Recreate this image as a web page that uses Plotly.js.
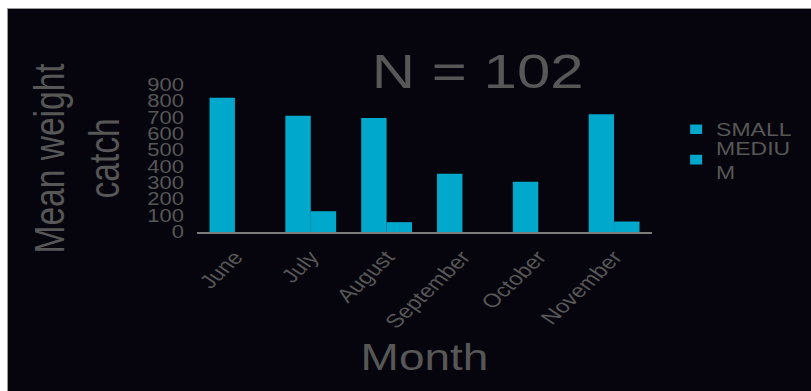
<!DOCTYPE html>
<html>
<head>
<meta charset="utf-8">
<script src="https://cdn.plot.ly/plotly-3.0.1.min.js"></script>
<style>
  html, body { margin: 0; padding: 0; background: #ffffff; width: 811px; height: 391px; overflow: hidden; }
  #wrap { position: absolute; left: 7px; top: 8px; width: 804px; height: 383px; overflow: hidden;
          background: #06050d; border-left: 1px solid #9a9a9a; border-top: 1px solid #9a9a9a; }
  #plot { width: 803px; height: 478px; transform: scaleY(0.7992); transform-origin: 0 0; }
</style>
</head>
<body>
<div id="wrap"><div id="plot"></div></div>
<script>
const months = ["June", "July", "August", "September", "October", "November"];
const smallCatch = [822, 711, 697, 357, 308, 721];
const mediumCatch = [0, 127, 60, 0, 0, 64];
const yTicks = [0, 100, 200, 300, 400, 500, 600, 700, 800, 900];
const seriesNames = ["SMALL", "MEDIU<br>M"];
const titleText = "N = 102";
const xTitle = "Month";
const yTitle = "Mean weight<br>catch";

const barColor = "#00a9cc";
const textColor = "#575757";
const fontFam = "Liberation Sans, Arial, Helvetica, sans-serif";

const traces = [
  { type: "bar", x: months, y: smallCatch, name: seriesNames[0], legend: "legend",
    marker: { color: barColor, line: { width: 0 } } },
  { type: "bar", x: months, y: mediumCatch, name: seriesNames[1], legend: "legend2",
    marker: { color: barColor, line: { width: 0 } } }
];

const legendFont = { size: 23, color: textColor, family: fontFam };

const layout = {
  width: 803, height: 478,
  paper_bgcolor: "#06050d", plot_bgcolor: "#06050d",
  margin: { l: 189, r: 159, t: 95, b: 199, pad: 0 },
  barmode: "group", bargap: 0.33, bargroupgap: 0,
  font: { family: fontFam, color: textColor },
  title: { text: titleText, font: { size: 60, color: textColor, family: fontFam },
           xref: "container", x: 0.585, xanchor: "center",
           yref: "container", y: 0.8366, yanchor: "middle" },
  xaxis: {
    type: "category", showgrid: false, zeroline: false,
    showline: true, linecolor: "#7c7c7c", linewidth: 2,
    ticks: "", tickangle: -50, ticklabelstandoff: 6,
    tickfont: { size: 24, color: textColor, family: fontFam },
    title: { text: xTitle, font: { size: 46, color: textColor, family: fontFam }, standoff: 16 },
    automargin: false
  },
  yaxis: {
    range: [0, 900], showgrid: false, zeroline: false, showline: false,
    tickvals: yTicks, ticktext: yTicks.map(String), ticks: "",
    ticklabelstandoff: 12,
    tickfont: { size: 22, color: textColor, family: fontFam },
    title: { text: yTitle, font: { size: 42, color: textColor, family: fontFam }, standoff: 14 },
    automargin: false
  },
  showlegend: true,
  legend: {
    x: 1.053, xanchor: "left", y: 0.815, yanchor: "top",
    bgcolor: "rgba(0,0,0,0)", font: legendFont
  },
  legend2: {
    x: 1.053, xanchor: "left", y: 0.69, yanchor: "top",
    bgcolor: "rgba(0,0,0,0)", font: legendFont
  }
};

Plotly.newPlot("plot", traces, layout, { displayModeBar: false, staticPlot: true });
</script>
</body>
</html>
